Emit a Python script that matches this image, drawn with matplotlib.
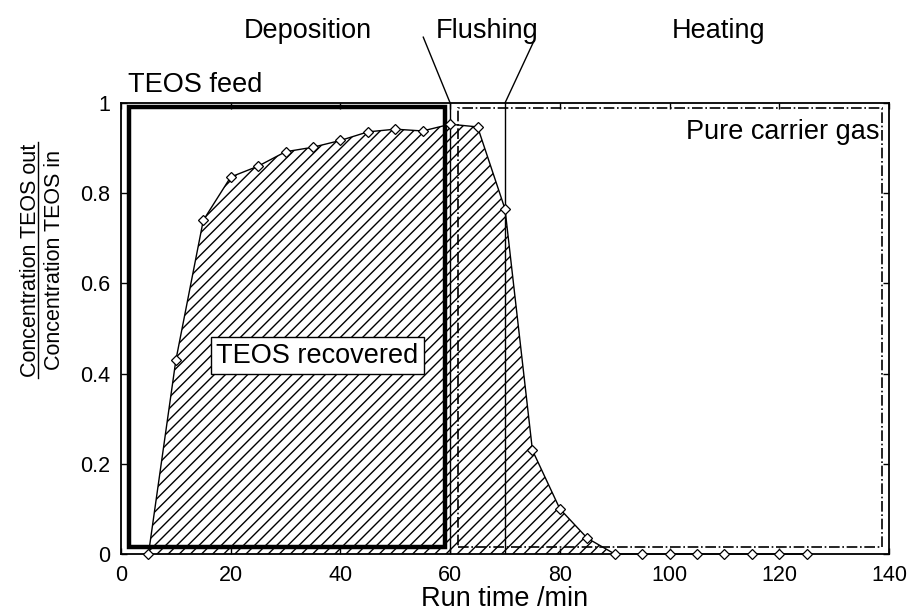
import numpy as np
import matplotlib.pyplot as plt
from matplotlib.lines import Line2D
from matplotlib.patches import Rectangle

plt.rcParams['font.family'] = ['Liberation Sans', 'DejaVu Sans']
plt.rcParams['hatch.linewidth'] = 1.0

# measured outlet/inlet TEOS concentration ratio
run_time = [5, 10, 15, 20, 25, 30, 35, 40, 45, 50, 55, 60, 65,
            70, 75, 80, 85, 90, 95, 100, 105, 110, 115, 120, 125]
conc_ratio = [0.0, 0.43, 0.74, 0.836, 0.86, 0.892, 0.902, 0.917, 0.936, 0.942,
              0.938, 0.953, 0.947, 0.765, 0.23, 0.10, 0.035, 0.0, 0.0, 0.0,
              0.0, 0.0, 0.0, 0.0, 0.0]

phase_names = ['Deposition', 'Flushing', 'Heating']
phase_label_x = [34, 66.7, 109]
phase_bounds = [60, 70]

# (x0, y0, x1, y1) of the feed / carrier gas frames
feed_box = (1.5, 0.016, 59.1, 0.992)
carrier_box = (61.5, 0.016, 138.7, 0.988)

xticks = [0, 20, 40, 60, 80, 100, 120, 140]
yticks = [0, 0.2, 0.4, 0.6, 0.8, 1.0]
ytick_labels = ['0', '0.2', '0.4', '0.6', '0.8', '1']

fig = plt.figure(figsize=(9.1, 6.11), dpi=100)
ax = fig.add_axes([0.133, 0.0933, 0.8439, 0.7381])

ax.fill_between(run_time, conc_ratio, 0, facecolor='none', edgecolor='black',
                hatch='///', linewidth=0, zorder=1)
ax.plot(run_time, conc_ratio, color='black', lw=1.0, marker='D', ms=5.5,
        mfc='white', mec='black', mew=0.9, zorder=5, clip_on=False)

x0, y0, x1, y1 = feed_box
ax.add_patch(Rectangle((x0, y0), x1 - x0, y1 - y0, fill=False,
                       edgecolor='black', lw=3.2, zorder=4))
x0, y0, x1, y1 = carrier_box
ax.add_patch(Rectangle((x0, y0), x1 - x0, y1 - y0, fill=False,
                       edgecolor='black', lw=1.2, ls='-.', zorder=4))

for xb in phase_bounds:
    ax.axvline(xb, color='black', lw=1.0, zorder=3)

# labels for the phases with the two pointer lines
for name, xp in zip(phase_names, phase_label_x):
    ax.text(xp, 1.144, name, ha='center', va='baseline', fontsize=19.5,
            clip_on=False)
ax.plot([55.1, 60], [1.146, 1.0], color='black', lw=1.0, clip_on=False)
ax.plot([75.1, 70], [1.133, 1.0], color='black', lw=1.0, clip_on=False)

ax.text(1.2, 1.012, 'TEOS feed', ha='left', va='bottom', fontsize=19.5,
        clip_on=False)
ax.text(138.3, 0.935, 'Pure carrier gas', ha='right', va='center',
        fontsize=19.5, zorder=6)
ax.text(35.8, 0.44, 'TEOS recovered', ha='center', va='center', fontsize=19.5,
        zorder=6, bbox=dict(boxstyle='square,pad=0.2', fc='white',
                            ec='black', lw=1.0))

ax.set_xlim(0, 140)
ax.set_ylim(0, 1)
ax.set_xticks(xticks)
ax.set_yticks(yticks)
ax.set_yticklabels(ytick_labels)
ax.tick_params(direction='in', top=True, right=True, length=4, width=1,
               labelsize=15.5, pad=8)
for s in ax.spines.values():
    s.set_linewidth(1.3)
ax.set_xlabel('Run time /min', fontsize=19.5, labelpad=0)

# y label drawn as a fraction
fig.text(0.0396, 0.5745, 'Concentration TEOS out', rotation=90,
         rotation_mode='anchor', ha='center', va='baseline', fontsize=15.5)
fig.text(0.0659, 0.5745, 'Concentration TEOS in', rotation=90,
         rotation_mode='anchor', ha='center', va='baseline', fontsize=15.5)
fig.add_artist(Line2D([0.0423, 0.0423], [0.381, 0.768], color='black', lw=1.0,
                      transform=fig.transFigure))

fig.savefig('out.png', dpi=100)
